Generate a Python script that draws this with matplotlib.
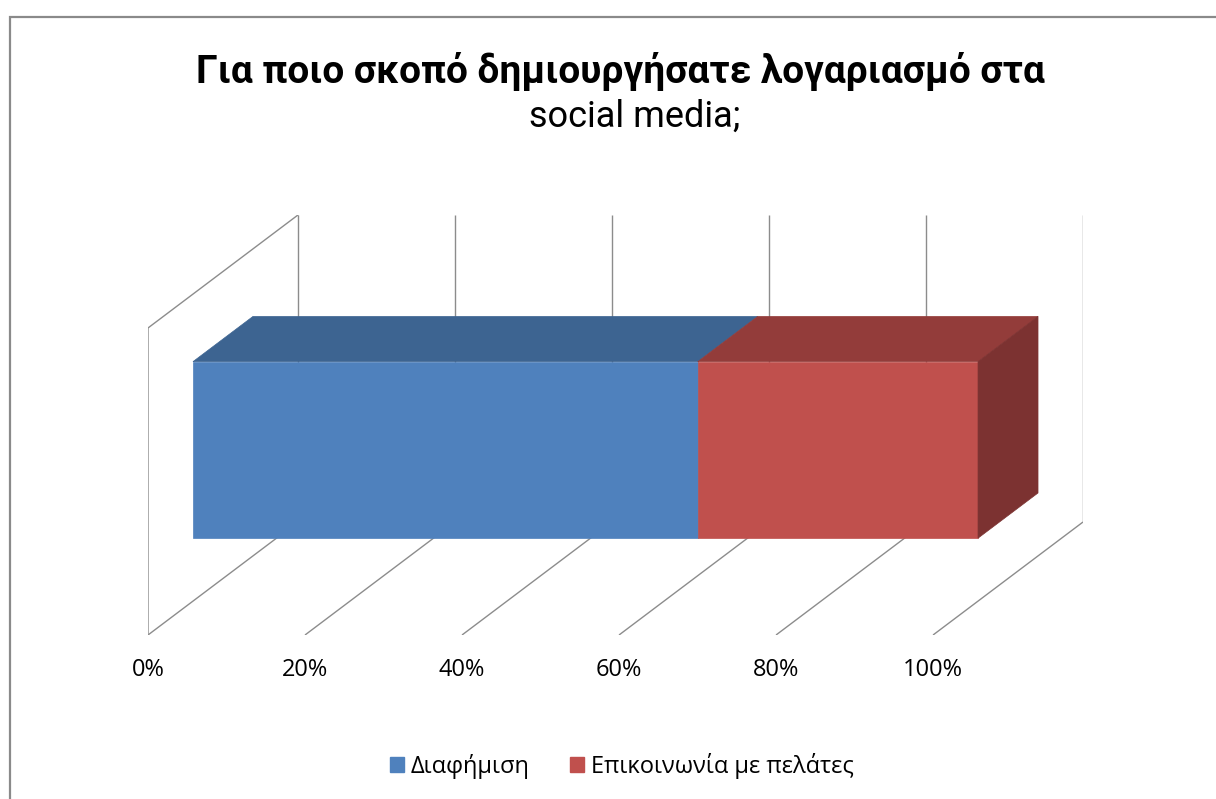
import matplotlib
matplotlib.use("Agg")
import matplotlib.pyplot as plt
from matplotlib.patches import Polygon, Rectangle, Patch

# ---- data -------------------------------------------------------------
title_bold = "Για ποιο σκοπό δημιουργήσατε λογαριασμό στα"
title_rest = "social media;"
series_names = ["Διαφήμιση", "Επικοινωνία με πελάτες"]
series_values = [64.3, 35.7]          # share of answers, percent
tick_values = [0, 20, 40, 60, 80, 100]
tick_labels = ["0%", "20%", "40%", "60%", "80%", "100%"]

# ---- styling ----------------------------------------------------------
front_colors = ["#4F81BD", "#C0504D"]
top_colors = ["#3D6491", "#933C3A"]
side_colors = ["#31507A", "#7C3231"]
grid_color = "#8C8C8C"

TITLE_FONT = ["Roboto", "DejaVu Sans"]
LABEL_FONT = ["Open Sans", "DejaVu Sans"]

W, H = 1216, 799
fig = plt.figure(figsize=(W / 100, H / 100), dpi=100)
fig.patch.set_facecolor("white")

# chart area frame (only left and top edges fall inside the image)
fig.add_artist(Rectangle((10 / W, -0.5), 2.0, (H - 17) / H + 0.5,
                         transform=fig.transFigure, fill=False,
                         edgecolor="#8A8A8A", linewidth=1.6))

# ---- oblique 3-D projection -------------------------------------------
DEPTH_DX = 19.1    # shift of the back plane along x (percent units)
DEPTH_DY = 0.368   # shift of the back plane along y (height units)


def proj(p, d, z):
    return (p + d * DEPTH_DX, z + d * DEPTH_DY)


ax = fig.add_axes([148 / W, 164 / H, 935 / W, 420 / H])
ax.set_xlim(0, 100 + DEPTH_DX)
ax.set_ylim(0, 1 + DEPTH_DY)
ax.axis("off")

# walls and floor grid
for t in tick_values:
    x0, y0 = proj(t, 1, 0)
    x1, y1 = proj(t, 1, 1)
    ax.plot([x0, x1], [y0, y1], color=grid_color, lw=1.0, zorder=1,
            solid_capstyle="butt")
    xf, yf = proj(t, 0, 0)
    ax.plot([xf, x0], [yf, y0], color=grid_color, lw=1.0, zorder=1,
            solid_capstyle="butt")

# left side wall outline
pts = [proj(0, 1, 1), proj(0, 0, 1), proj(0, 0, 0)]
ax.plot([p[0] for p in pts], [p[1] for p in pts], color=grid_color,
        lw=1.0, zorder=1)

# ---- stacked 3-D bar --------------------------------------------------
D0, D1 = 0.3, 0.7      # bar depth extent
Z0, Z1 = 0.205, 0.78   # bar height extent

left = 0.0
for i, v in enumerate(series_values):
    p0, p1 = left, left + v
    front = [proj(p0, D0, Z0), proj(p1, D0, Z0), proj(p1, D0, Z1), proj(p0, D0, Z1)]
    top = [proj(p0, D0, Z1), proj(p1, D0, Z1), proj(p1, D1, Z1), proj(p0, D1, Z1)]
    ax.add_patch(Polygon(top, closed=True, facecolor=top_colors[i],
                         edgecolor=top_colors[i], lw=0.5, zorder=2 + i))
    ax.add_patch(Polygon(front, closed=True, facecolor=front_colors[i],
                         edgecolor=front_colors[i], lw=0.5, zorder=2 + i))
    if i == len(series_values) - 1:
        side = [proj(p1, D0, Z0), proj(p1, D1, Z0), proj(p1, D1, Z1), proj(p1, D0, Z1)]
        ax.add_patch(Polygon(side, closed=True, facecolor=side_colors[i],
                             edgecolor=side_colors[i], lw=0.5, zorder=2 + i))
    left = p1

# axis tick labels under the front edge of the floor
for t, lab in zip(tick_values, tick_labels):
    ax.annotate(lab, xy=proj(t, 0, 0), xytext=(0, -35),
                textcoords="offset pixels", ha="center", va="center",
                fontsize=17, family=LABEL_FONT, color="black",
                annotation_clip=False)

# ---- title ------------------------------------------------------------
fig.text(620 / W, 1 - 83 / H, title_bold, ha="center", va="baseline",
         fontsize=28, fontweight="bold", family=TITLE_FONT)
fig.text(635 / W, 1 - 127 / H, title_rest, ha="center", va="baseline",
         fontsize=26, family=TITLE_FONT)

# ---- legend -----------------------------------------------------------
handles = [Patch(facecolor=c, edgecolor=c) for c in front_colors]
fig.legend(handles, series_names, loc="center",
           bbox_to_anchor=(622 / W, 1 - 766 / H), ncol=2, frameon=False,
           handlelength=0.6, handleheight=0.6, handletextpad=0.3,
           columnspacing=1.7, prop={"family": LABEL_FONT, "size": 17})

fig.savefig("out.png", dpi=100, facecolor="white")
